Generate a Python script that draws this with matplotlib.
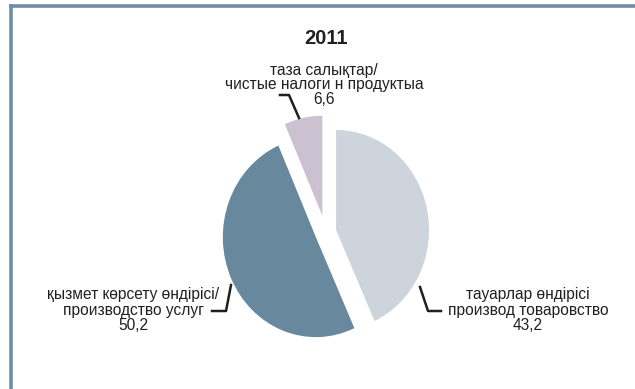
import matplotlib
matplotlib.use("Agg")
import matplotlib.pyplot as plt
from matplotlib.lines import Line2D

plt.rcParams['font.family'] = ['Liberation Sans', 'DejaVu Sans']

# data
year = "2011"
labels = ["тауарлар өндірісі\nпроизвод товаровство",
          "қызмет көрсету өндірісі/\nпроизводство услуг",
          "таза салықтар/\nчистые налоги н продуктыа"]
values = [43.2, 50.2, 6.6]
value_text = ["43,2", "50,2", "6,6"]
colors = ["#CDD4DC", "#68889D", "#CBC1D0"]
explode = [0.115, 0.115, 0.17]

W, H = 635, 389
fig = plt.figure(figsize=(W / 100, H / 100), dpi=100)


def px(x, y):
    return x / W, 1 - y / H


# pie axes: centre ~ (325.6, 232.4) px, rx 93 px, ry 100 px
ax = fig.add_axes([(325.6 - 139.5) / W, (389 - 232.4 - 150) / H, 279 / W, 300 / H])
ax.pie(values, colors=colors, startangle=90, counterclock=False,
       explode=explode, radius=1.0)
ax.set_xlim(-1.5, 1.5)
ax.set_ylim(-1.5, 1.5)
ax.set_aspect('auto')
ax.axis('off')

# frame of the panel
border = "#6F8DA5"
fig.add_artist(Line2D([px(11, 0)[0], px(11, 0)[0]], [px(0, 6)[1], 0],
                      transform=fig.transFigure, color=border, lw=2.6))
fig.add_artist(Line2D([px(11, 0)[0], 1], [px(0, 6)[1], px(0, 6)[1]],
                      transform=fig.transFigure, color=border, lw=2.6))

tc = "#231F20"
fig.text(*px(326, 38), year, ha='center', va='center', fontsize=14.5,
         fontweight='bold', color=tc)

fs = 11.2
fig.text(*px(324, 85), labels[2] + "\n" + value_text[2], ha='center',
         va='center', fontsize=fs, color=tc, linespacing=0.98)
fig.text(*px(133, 310), labels[1] + "\n" + value_text[1], ha='center',
         va='center', fontsize=fs, color=tc, linespacing=1.0)
fig.text(*px(528, 310), labels[0] + "\n" + value_text[0], ha='center',
         va='center', fontsize=fs, color=tc, linespacing=1.0)

# leader lines
leaders = [
    [(280, 95), (289, 95), (299, 118)],
    [(231, 285), (226, 311), (212, 311)],
    [(420, 287), (428, 311), (441, 311)],
]
for pts in leaders:
    xs = [px(*p)[0] for p in pts]
    ys = [px(*p)[1] for p in pts]
    fig.add_artist(Line2D(xs, ys, transform=fig.transFigure, color=tc, lw=1.8))

fig.savefig("out.png", dpi=100)
